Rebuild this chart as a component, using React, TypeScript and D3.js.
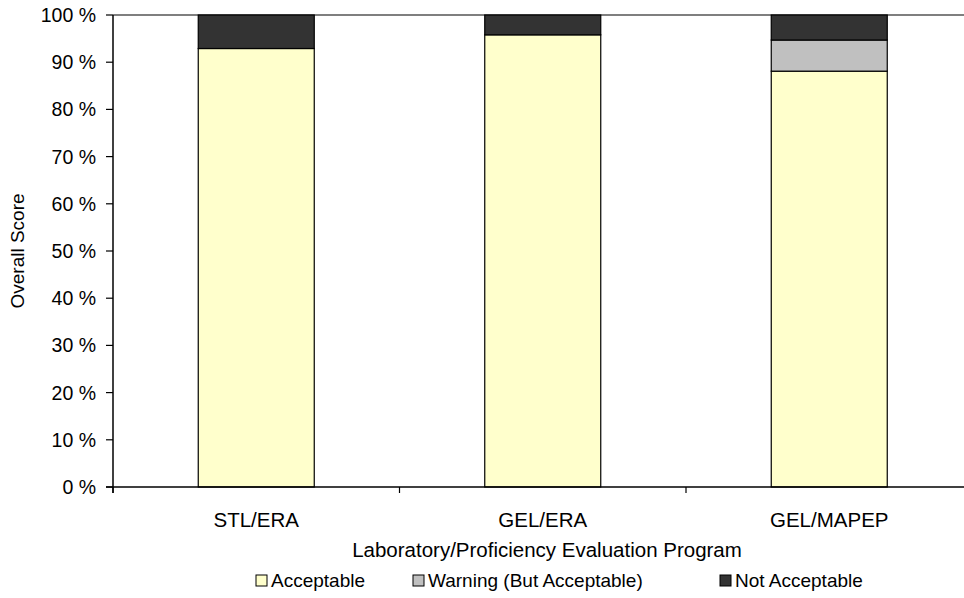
import * as d3 from 'd3';

const categories = ['STL/ERA', 'GEL/ERA', 'GEL/MAPEP'];
const seriesNames = ['Acceptable', 'Warning (But Acceptable)', 'Not Acceptable'];
const acceptable = [92.9, 95.8, 88.1];
const warning = [0, 0, 6.6];
const notAcceptable = [7.1, 4.2, 5.3];
const yTicks = [0, 10, 20, 30, 40, 50, 60, 70, 80, 90, 100];

const colors = ['#FFFFCC', '#C0C0C0', '#333333'];

export default function App() {
  const width = 964;
  const height = 598;
  const left = 113;
  const top = 15;
  const bottom = 487;
  const bandW = 286.5;

  const x = d3.scaleBand<string>()
    .domain(categories)
    .range([left, left + bandW * categories.length])
    .paddingInner(0)
    .paddingOuter(0);
  const y = d3.scaleLinear().domain([0, 100]).range([bottom, top]);

  const rows = categories.map((c, i) => ({
    cat: c,
    s0: acceptable[i],
    s1: warning[i],
    s2: notAcceptable[i],
  }));
  const stack = d3.stack<any>().keys(['s0', 's1', 's2'])(rows);

  const barW = 116;
  const font = 'Arial, "Liberation Sans", sans-serif';

  const legendX = [256, 413, 720];

  return (
    <svg
      width={width}
      height={height}
      style={{ position: 'absolute', left: 0, top: 0, display: 'block', background: '#fff' }}
      fontFamily={font}
    >
      {/* top border of plot area */}
      <line x1={left} x2={width} y1={top} y2={top} stroke="#555" strokeWidth={1.5} />

      {stack.map((layer, si) =>
        layer.map((d, i) => {
          const h = y(d[0]) - y(d[1]);
          if (h <= 0) return null;
          const cx = x(categories[i])! + x.bandwidth() / 2;
          return (
            <rect
              key={`${si}-${i}`}
              x={cx - barW / 2}
              y={y(d[1])}
              width={barW}
              height={h}
              fill={colors[si]}
              stroke="#000"
              strokeWidth={1.2}
            />
          );
        })
      )}

      {/* y axis */}
      <line x1={left} x2={left} y1={top} y2={bottom + 6} stroke="#000" strokeWidth={1.5} />
      {yTicks.map(t => (
        <g key={t}>
          <line x1={left - 7} x2={left} y1={y(t)} y2={y(t)} stroke="#000" strokeWidth={1.2} />
          <text x={left - 17} y={y(t)} dy="0.36em" textAnchor="end" fontSize={19.5} fill="#000">
            {`${t} %`}
          </text>
        </g>
      ))}

      {/* x axis */}
      <line x1={left - 7} x2={width} y1={bottom} y2={bottom} stroke="#000" strokeWidth={1.5} />
      {categories.map((c, i) => (
        <g key={c}>
          <line x1={x(c)!} x2={x(c)!} y1={bottom} y2={bottom + 6} stroke="#000" strokeWidth={1.2} />
          <text
            x={x(c)! + x.bandwidth() / 2}
            y={527}
            textAnchor="middle"
            fontSize={20.5}
            fill="#000"
          >
            {c}
          </text>
        </g>
      ))}

      <text x={547} y={557} textAnchor="middle" fontSize={20.5} fill="#000">
        Laboratory/Proficiency Evaluation Program
      </text>
      <text
        transform="translate(24,251) rotate(-90)"
        textAnchor="middle"
        fontSize={19}
        fill="#000"
      >
        Overall Score
      </text>

      {/* legend */}
      {seriesNames.map((n, i) => (
        <g key={n} transform={`translate(${legendX[i]},575)`}>
          <rect x={0} y={0} width={11} height={11} fill={colors[i]} stroke="#000" strokeWidth={1} />
          <text x={15} y={11.5} fontSize={19} fill="#000">
            {n}
          </text>
        </g>
      ))}
    </svg>
  );
}
